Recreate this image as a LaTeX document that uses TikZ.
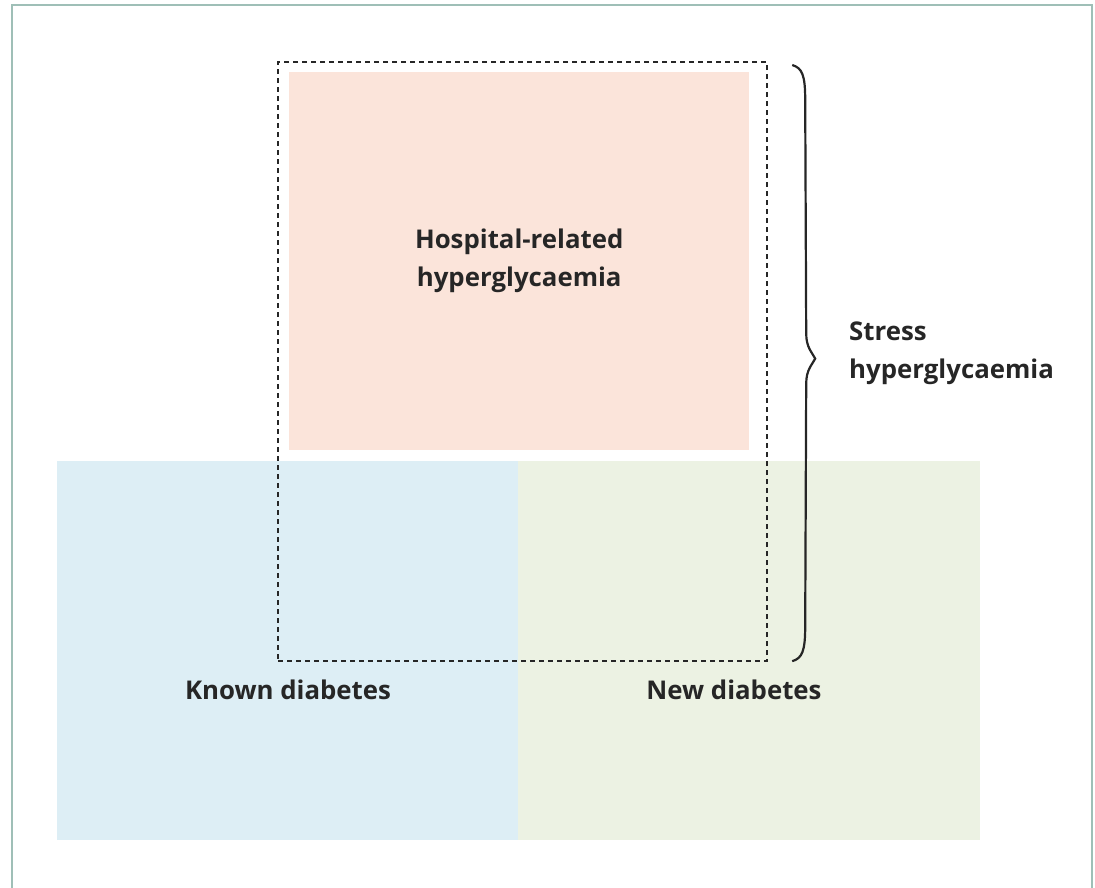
\documentclass[tikz,border=0pt]{standalone}
\usepackage{fontspec}
\setmainfont{Open Sans}
\usetikzlibrary{positioning,calc}
\definecolor{FramePine}{HTML}{9FBFB7}
\definecolor{HospitalPink}{HTML}{FBE4DA}
\definecolor{KnownBlue}{HTML}{DDEEF5}
\definecolor{NewGreen}{HTML}{ECF2E3}
\definecolor{InkGray}{HTML}{262626}

\begin{document}
\begin{tikzpicture}[
  x=1pt,y=-1pt,
  font=\fontsize{25.8}{38}\selectfont\bfseries,
  text=InkGray,
  area/.style={
    anchor=north west,
    inner sep=0pt,
    draw=none,
    align=center
  },
  label/.style={align=left,inner sep=0pt,text=InkGray},
  zone/.style={
    anchor=north west,
    inner sep=0pt,
    draw=black!85,
    line width=2.2pt,
    dash pattern=on 5pt off 4pt
  },
  frame/.style={draw=FramePine,line width=1.6pt},
  grouping/.style={draw=black!85,line width=2.2pt}
]
\useasboundingbox (0,0) rectangle (1095,888);
\draw[frame] (12,890) |- (1092,5) -- (1092,890);

% the three groups
\node[area,fill=KnownBlue,minimum width=461pt,minimum height=379pt] (known) at (57,461) {};
\node[area,fill=NewGreen,minimum width=462pt,minimum height=379pt] (new) at (518,461) {};
\node[area,fill=HospitalPink,minimum width=460pt,minimum height=378pt] (hospital) at (289,72)
  {Hospital-related\\hyperglycaemia};

\node[label] (knownlabel) at (288,690) {Known diabetes};
\node[label] (newlabel) at (734,690) {New diabetes};

% stress hyperglycaemia
\node[zone,minimum width=489pt,minimum height=599pt] (stresszone) at (277,61) {};
\coordinate (bracetop) at ([xshift=24pt,yshift=-4pt]stresszone.north east);
\coordinate (bracebottom) at ([xshift=24pt,yshift=1pt]stresszone.south east);
\coordinate (bracetip) at ([xshift=47pt,yshift=3pt]stresszone.east);
\draw[grouping] (bracetop)
  .. controls +(10,3) and +(0,-25) .. ++(13,35)
  -- ($(bracetip)+(-9,-25)$)
  .. controls +(0,14) and +(-3,-6) .. (bracetip)
  .. controls +(-3,6) and +(0,-14) .. ++(-9,25)
  -- ($(bracebottom)+(13,-35)$)
  .. controls +(0,25) and +(10,-3) .. (bracebottom);
\node[label,anchor=west] (stresslabel) at (849,353) {Stress\\hyperglycaemia};
\end{tikzpicture}
\end{document}
